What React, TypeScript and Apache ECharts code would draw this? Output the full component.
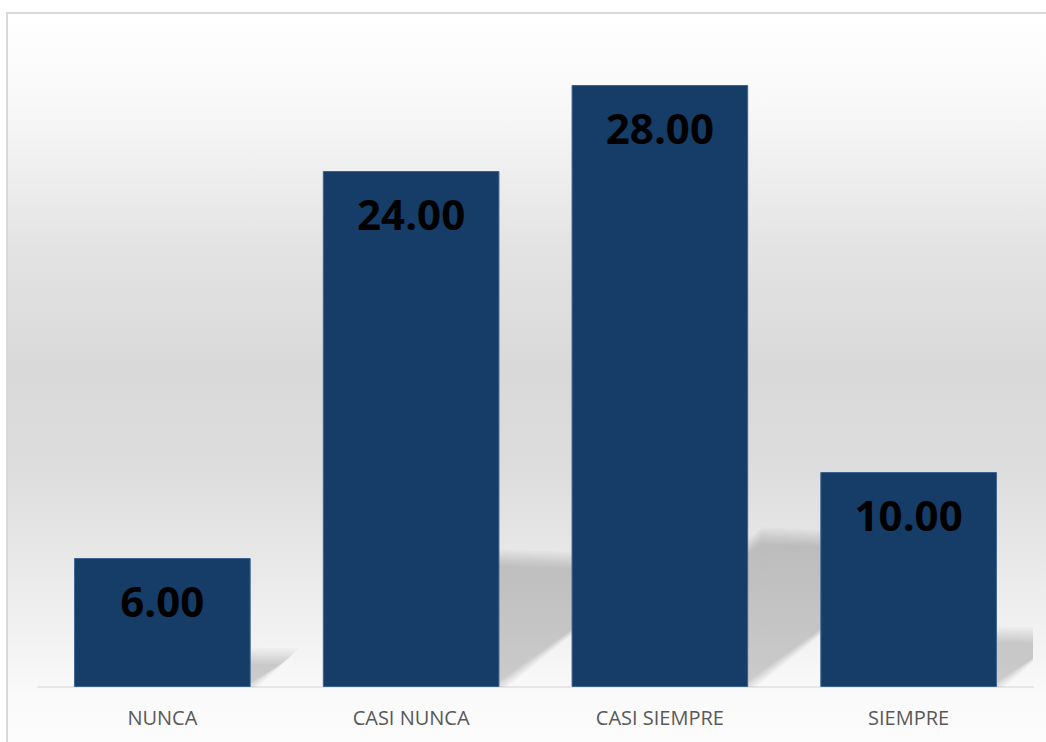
import React, { useEffect, useRef } from "react";
import * as echarts from "echarts";

const categories = ["NUNCA", "CASI NUNCA", "CASI SIEMPRE", "SIEMPRE"];
const values = [6, 24, 28, 10];

const BAR_RATIO = 0.71;

export default function App() {
  const ref = useRef<HTMLDivElement>(null);

  useEffect(() => {
    if (!ref.current) return;
    const chart = echarts.init(ref.current, undefined, { renderer: "svg" });
    const option: any = {
      animation: false,
      graphic: [
        {
          type: "rect",
          z: -10,
          silent: true,
          shape: { x: 7, y: 13, width: 1060, height: 760 },
          style: {
            fill: new echarts.graphic.LinearGradient(0, 0, 0, 1, [
              { offset: 0, color: "#FFFFFF" },
              { offset: 0.12, color: "#F8F8F8" },
              { offset: 0.31, color: "#E3E3E3" },
              { offset: 0.47, color: "#D9D9D9" },
              { offset: 0.6, color: "#DDDDDD" },
              { offset: 0.74, color: "#EAEAEA" },
              { offset: 0.9, color: "#FAFAFA" },
              { offset: 1, color: "#FDFDFD" },
            ]),
            stroke: "#D9D9D9",
            lineWidth: 2,
          },
        },
      ],
      grid: { left: 38, right: 13, top: 42, bottom: 55 },
      xAxis: {
        type: "category",
        data: categories,
        axisTick: { show: false },
        axisLine: { show: true, lineStyle: { color: "#E6E6E6", width: 2 } },
        axisLabel: {
          color: "#595959",
          fontFamily: "Open Sans",
          fontSize: 20,
          margin: 20,
        },
      },
      yAxis: {
        type: "value",
        min: 0,
        max: 30,
        show: false,
        splitLine: { show: false },
      },
      series: [
        {
          type: "custom",
          z: 1,
          clip: true,
          data: values.map((v, i) => [i, v]),
          renderItem: (params: any, api: any) => {
            const base = api.coord([api.value(0), 0]);
            const top = api.coord([api.value(0), api.value(1)]);
            const w = api.size([1, 0])[0] * BAR_RATIO;
            const h = base[1] - top[1];
            const dy = 0.24 * h;
            const dx = dy / 0.76;
            const xl = base[0] - w / 2;
            const xr = base[0] + w / 2;
            const yb = base[1];
            const layers: any[] = [];
            for (let k = -4; k <= 4; k++) {
              const e = k * 2;
              layers.push({
                type: "polygon",
                shape: {
                  points: [
                    [xl, yb],
                    [xr + e, yb],
                    [xr + dx + e, yb - dy - e],
                    [xl + dx, yb - dy * 1.05 - e],
                  ],
                },
                style: { fill: "rgba(0,0,0,0.02)" },
              });
            }
            return { type: "group", children: layers };
          },
        },
        {
          type: "bar",
          z: 3,
          data: values,
          barCategoryGap: "29%",
          itemStyle: {
            color: "#163D68",
            borderColor: "#3E6290",
            borderWidth: 1,
          },
          label: {
            show: true,
            position: "insideTop",
            distance: 21,
            color: "#000000",
            fontFamily: "Open Sans",
            fontWeight: "bold",
            fontSize: 42,
            formatter: (p: any) => Number(p.value).toFixed(2),
          },
        },
      ],
    };
    chart.setOption(option);
    return () => chart.dispose();
  }, []);

  return (
    <div
      ref={ref}
      style={{ position: "absolute", left: 0, top: 0, width: 1046, height: 742 }}
    />
  );
}
